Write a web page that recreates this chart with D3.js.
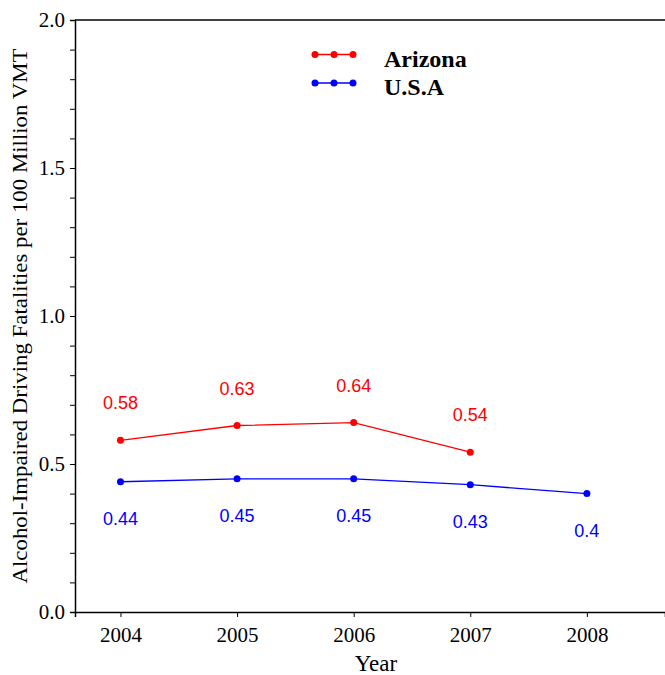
<!DOCTYPE html>
<html lang="en">
<head>
    <meta charset="UTF-8">
    <script src="https://d3js.org/d3.v7.min.js"></script>
    <title>Alcohol-Impaired Driving Fatalities</title>
    <style>
        body { margin: 0; background: #fff; }
    </style>
</head>
<body>
    <div class="fig"></div>
    <script>
        // data
        const years = [2004, 2005, 2006, 2007, 2008];
        const arizona = [0.58, 0.63, 0.64, 0.54];
        const usa = [0.44, 0.45, 0.45, 0.43, 0.4];
        const seriesNames = ["Arizona", "U.S.A"];
        const seriesColors = ["#ff0000", "#0000ff"];
        const yTicks = [0, 0.5, 1.0, 1.5, 2.0];

        const width = 665, height = 675;
        const svg = d3.select(".fig").append("svg")
            .attr("width", width)
            .attr("height", height);

        // scales
        const x = d3.scaleLinear().domain([2003.61, 2008.67]).range([75, 665]);
        const y = d3.scaleLinear().domain([0, 2]).range([612, 20]);

        const serif = "'Liberation Serif', 'Times New Roman', serif";
        const sans = "'Liberation Sans', Arial, sans-serif";

        // y axis with minor ticks every 0.1
        const yAxis = svg.append("g")
            .attr("transform", "translate(75,0)")
            .call(d3.axisLeft(y).tickValues(d3.range(0, 2.0001, 0.1)).tickSize(5)
                .tickFormat(d => yTicks.some(t => Math.abs(t - d) < 1e-6) ? d3.format(".1f")(d) : ""));
        yAxis.select(".domain").attr("stroke", "#000").attr("stroke-width", 1.5);
        yAxis.selectAll("text").attr("font-family", serif).attr("font-size", 21).attr("fill", "#000").attr("dx", -2);

        // x axis
        const xAxis = svg.append("g")
            .attr("transform", "translate(0,612)")
            .call(d3.axisBottom(x).tickValues(years).tickSize(5).tickFormat(d3.format("d")));
        xAxis.select(".domain").attr("stroke", "#000").attr("stroke-width", 1.5);
        xAxis.selectAll("text").attr("font-family", serif).attr("font-size", 21).attr("fill", "#000").attr("dy", "1.05em");

        // top frame line
        svg.append("line")
            .attr("x1", 75).attr("x2", width)
            .attr("y1", y(2)).attr("y2", y(2))
            .attr("stroke", "#000").attr("stroke-width", 1.5);

        // axis titles
        svg.append("text")
            .attr("x", 376).attr("y", 671)
            .attr("text-anchor", "middle")
            .attr("font-family", serif).attr("font-size", 23)
            .text("Year");

        svg.append("text")
            .attr("transform", "translate(27,316) rotate(-90)")
            .attr("text-anchor", "middle")
            .attr("font-family", serif).attr("font-size", 21)
            .attr("textLength", 535).attr("lengthAdjust", "spacingAndGlyphs")
            .text("Alcohol-Impaired Driving Fatalities per 100 Million VMT");

        // lines, points and value labels
        const series = [arizona, usa];
        const line = d3.line().x((d, i) => x(years[i])).y(d => y(d));

        series.forEach((vals, s) => {
            const g = svg.append("g");
            g.append("path")
                .datum(vals)
                .attr("d", line)
                .attr("fill", "none")
                .attr("stroke", seriesColors[s])
                .attr("stroke-width", 1.3);
            g.selectAll("circle")
                .data(vals)
                .enter()
                .append("circle")
                .attr("cx", (d, i) => x(years[i]))
                .attr("cy", d => y(d))
                .attr("r", 3.5)
                .attr("fill", seriesColors[s]);
            g.selectAll("text")
                .data(vals)
                .enter()
                .append("text")
                .attr("x", (d, i) => x(years[i]))
                .attr("y", d => s === 0 ? y(d) - 31 : y(d) + 43)
                .attr("text-anchor", "middle")
                .attr("font-family", sans).attr("font-size", 18)
                .attr("fill", seriesColors[s])
                .text(d => d);
        });

        // legend
        const legend = svg.append("g");
        seriesNames.forEach((name, s) => {
            const ly = 54.5 + s * 28.5;
            legend.append("line")
                .attr("x1", 315).attr("x2", 353)
                .attr("y1", ly).attr("y2", ly)
                .attr("stroke", seriesColors[s]).attr("stroke-width", 1.3);
            [315, 334, 353].forEach(cx => {
                legend.append("circle")
                    .attr("cx", cx).attr("cy", ly).attr("r", 3.5)
                    .attr("fill", seriesColors[s]);
            });
            legend.append("text")
                .attr("x", 384).attr("y", ly + 12)
                .attr("font-family", serif).attr("font-size", 24).attr("font-weight", "bold")
                .text(name);
        });
    </script>
</body>
</html>
